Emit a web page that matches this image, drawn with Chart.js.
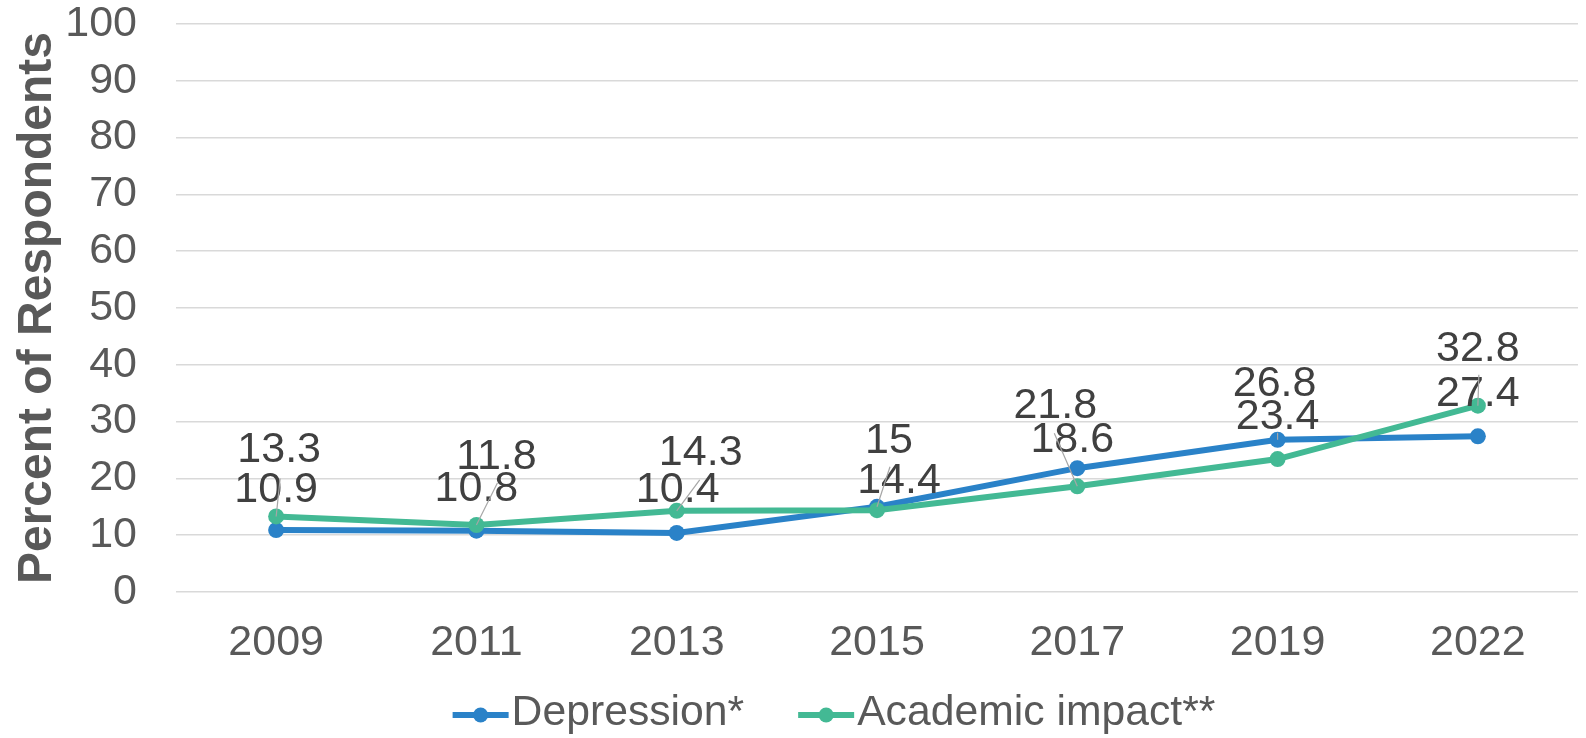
<!DOCTYPE html>
<html><head><meta charset="utf-8">
<script src="https://cdn.jsdelivr.net/npm/chart.js@4.4.0/dist/chart.umd.min.js"></script>
<style>html,body{margin:0;padding:0;background:#fff;} #wrap{width:1586px;height:738px;}</style>
</head><body><div id="wrap"><canvas id="c" width="1586" height="738"></canvas></div>
<script>
const years = ['2009', '2011', '2013', '2015', '2017', '2019', '2022'];
const depression = [10.9, 10.8, 10.4, 15, 21.8, 26.8, 27.4];
const academic = [13.3, 11.8, 14.3, 14.4, 18.6, 23.4, 32.8];
const seriesNames = ['Depression*', 'Academic impact**'];
const yTitle = 'Percent of Respondents';

// label placement (pixel offsets from each point to its label centre), style only
const labelOffsets = [
  [[0,-40],[0,-42],[1,-43],[12,-66],[-22,-62],[-3,-56],[0,-42]],
  [[3,-66],[20,-68],[24,-58],[22,-29],[-5,-46],[0,-42],[0,-57]]
];
// leader line end offsets (pixels from point), null = no leader
const leaderEnds = [
  [null, null, null, [13,-40], null, [0,-7], null],
  [[4,-38], [21,-42], [23,-31], null, [-23,-53], null, [1,-31]]
];

const FONT = '"Liberation Sans", Arial, sans-serif';
const BLUE = '#2a82c8';
const GREEN = '#43b994';
const TICK_SIZE = 43;
const LABEL_SIZE = 43;
const LEGEND_SIZE = 42.7;

const labelPlugin = {
  id: 'valueLabels',
  afterDatasetsDraw(chart) {
    const ctx = chart.ctx;
    ctx.save();
    ctx.font = LABEL_SIZE + 'px ' + FONT;
    ctx.textAlign = 'center';
    ctx.textBaseline = 'middle';
    const items = [];
    chart.data.datasets.forEach((ds, di) => {
      const meta = chart.getDatasetMeta(di);
      meta.data.forEach((pt, i) => {
        const off = labelOffsets[di][i];
        items.push({x: pt.x, y: pt.y, lx: pt.x + off[0], ly: pt.y + off[1], txt: String(ds.data[i]), lead: leaderEnds[di][i]});
      });
    });
    ctx.fillStyle = '#404040';
    items.forEach(it => ctx.fillText(it.txt, it.lx, it.ly));
    ctx.strokeStyle = '#a6a6a6';
    ctx.lineWidth = 1.2;
    items.forEach(it => {
      if (!it.lead) return;
      ctx.beginPath();
      ctx.moveTo(it.x, it.y);
      ctx.lineTo(it.x + it.lead[0], it.y + it.lead[1]);
      ctx.stroke();
    });
    ctx.restore();
  }
};

const legendPlugin = {
  id: 'customLegend',
  afterDraw(chart) {
    const ctx = chart.ctx;
    ctx.save();
    ctx.font = LEGEND_SIZE + 'px ' + FONT;
    ctx.textBaseline = 'middle';
    ctx.textAlign = 'left';
    const markW = 56, gapT = 3, gapItem = 54;
    const ds = chart.data.datasets;
    const widths = ds.map(d => ctx.measureText(d.label).width);
    let total = 0;
    widths.forEach((w, i) => { total += markW + gapT + w + (i < widths.length - 1 ? gapItem : 0); });
    let x = 834 - total / 2;
    const y = 715;
    ds.forEach((d, i) => {
      ctx.strokeStyle = d.borderColor;
      ctx.lineWidth = 6;
      ctx.beginPath(); ctx.moveTo(x, y); ctx.lineTo(x + markW, y); ctx.stroke();
      ctx.fillStyle = d.borderColor;
      ctx.beginPath(); ctx.arc(x + markW / 2, y, 7.5, 0, Math.PI * 2); ctx.fill();
      ctx.fillStyle = '#595959';
      ctx.fillText(d.label, x + markW + gapT, y - 2);
      x += markW + gapT + widths[i] + gapItem;
    });
    ctx.restore();
  }
};

new Chart(document.getElementById('c'), {
  type: 'line',
  data: {
    labels: years,
    datasets: [
      {label: seriesNames[0], data: depression, borderColor: BLUE, backgroundColor: BLUE, borderWidth: 6, pointRadius: 8, pointBorderWidth: 0, pointBackgroundColor: BLUE, tension: 0, order: 1},
      {label: seriesNames[1], data: academic, borderColor: GREEN, backgroundColor: GREEN, borderWidth: 6, pointRadius: 8, pointBorderWidth: 0, pointBackgroundColor: GREEN, tension: 0, order: 0}
    ]
  },
  options: {
    responsive: false,
    animation: false,
    layout: {padding: {top: 24, right: 2, left: 0, bottom: 0}},
    plugins: {legend: {display: false}, tooltip: {enabled: false}},
    scales: {
      x: {
        offset: true,
        grid: {display: false, drawTicks: false},
        border: {display: false},
        ticks: {font: {family: FONT, size: TICK_SIZE}, color: '#595959', padding: 25, maxRotation: 0, autoSkip: false},
        afterFit(s) { s.height = 146; s.paddingLeft = 0; s.paddingRight = 0; }
      },
      y: {
        min: 0, max: 100,
        ticks: {stepSize: 10, font: {family: FONT, size: TICK_SIZE}, color: '#595959', padding: 39},
        grid: {color: '#d9d9d9', lineWidth: 1.5, drawTicks: false},
        border: {display: false},
        title: {display: true, text: yTitle, font: {family: FONT, size: 48, weight: 'bold'}, color: '#595959', padding: {top: 9, bottom: 0}},
        afterFit(s) { s.width = 176; s.paddingTop = 0; s.paddingBottom = 0; }
      }
    }
  },
  plugins: [labelPlugin, legendPlugin]
});
</script>
</body></html>
